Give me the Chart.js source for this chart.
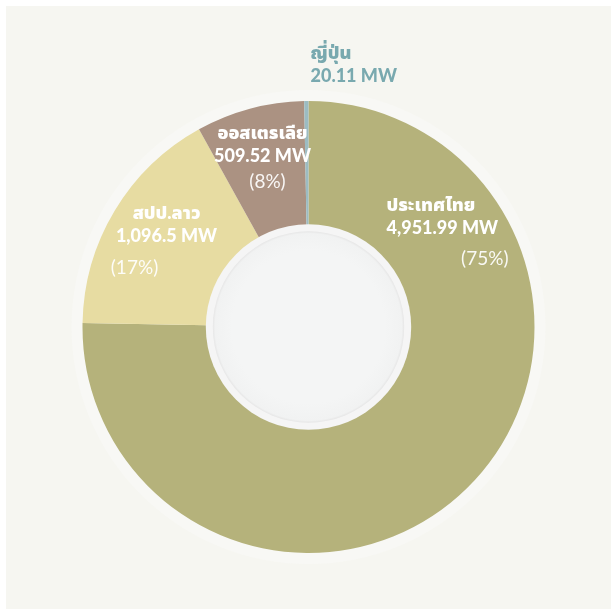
<!DOCTYPE html>
<html>
<head>
<meta charset="utf-8">
<script src="https://cdn.jsdelivr.net/npm/chart.js@4.4.1/dist/chart.umd.min.js"></script>
<style>
  html, body { margin: 0; padding: 0; background: #ffffff; }
  .chart-box {
    position: absolute;
    left: 6px;
    top: 6px;
    width: 605px;
    height: 603px;
    background: #f6f6f1;
  }
</style>
</head>
<body>
<div class="chart-box"><canvas id="powerChart"></canvas></div>
<script>
const countries = ["ประเทศไทย", "สปป.ลาว", "ออสเตรเลีย", "ญี่ปุ่น"];
const capacityMW = [4951.99, 1096.5, 509.52, 20.11];
const sliceColors = ["#b5b27b", "#e7dca2", "#ab9282", "#9cbcc2"];

const fontStack = "Lato, 'Noto Sans', 'Noto Sans Thai', sans-serif";

// where each label sits, offset from the chart centre (px)
const labelSpots = [
  { x: 78, y: -122, align: "left", pctX: 200, pctY: -68, pctAlign: "right", color: "#ffffff" },
  { x: -142, y: -114, align: "center", pctX: -174, pctY: -59, pctAlign: "center", color: "#ffffff" },
  { x: -46, y: -194, align: "center", pctX: -41, pctY: -145, pctAlign: "center", color: "#ffffff" },
  { x: 2, y: -274, align: "left", color: "#79a9af" },
];

const total = capacityMW.reduce((a, b) => a + b, 0);
const fmt = (v) => v.toLocaleString("en-US", { maximumFractionDigits: 2 });

const decorPlugin = {
  id: "decor",
  beforeDatasetsDraw(chart) {
    const arc = chart.getDatasetMeta(0).data[0];
    if (!arc) return;
    const { x, y, outerRadius } = arc;
    const ctx = chart.ctx;
    ctx.save();
    ctx.beginPath();
    ctx.arc(x, y, outerRadius + 11, 0, Math.PI * 2);
    ctx.fillStyle = "#f8f8f5";
    ctx.fill();
    ctx.restore();
  },
  afterDatasetsDraw(chart) {
    const arc = chart.getDatasetMeta(0).data[0];
    if (!arc) return;
    const { x, y, innerRadius } = arc;
    const ctx = chart.ctx;
    ctx.save();
    // white rim
    ctx.beginPath();
    ctx.arc(x, y, innerRadius + 1, 0, Math.PI * 2);
    ctx.fillStyle = "#f5f5f5";
    ctx.fill();
    // inner disc with soft inner shadow
    const r = innerRadius - 6;
    const g = ctx.createRadialGradient(x, y, r * 0.8, x, y, r);
    g.addColorStop(0, "#f4f5f5");
    g.addColorStop(0.88, "#f1f2f2");
    g.addColorStop(1, "#e6e6e6");
    ctx.beginPath();
    ctx.arc(x, y, r, 0, Math.PI * 2);
    ctx.fillStyle = g;
    ctx.fill();

    // labels
    ctx.textBaseline = "middle";
    countries.forEach((name, i) => {
      const s = labelSpots[i];
      ctx.fillStyle = s.color;
      ctx.textAlign = s.align;
      ctx.font = "900 18px " + fontStack;
      ctx.fillText(name, x + s.x, y + s.y);
      ctx.fillText(fmt(capacityMW[i]) + " MW", x + s.x, y + s.y + 23);
      const pct = Math.round((capacityMW[i] / total) * 100);
      if (s.pctX !== undefined && pct >= 1) {
        ctx.font = "19px " + fontStack;
        ctx.fillStyle = "rgba(255,255,255,0.92)";
        ctx.textAlign = s.pctAlign;
        ctx.fillText("(" + pct + "%)", x + s.pctX, y + s.pctY);
      }
    });
    ctx.restore();
  },
};

new Chart(document.getElementById("powerChart").getContext("2d"), {
  type: "doughnut",
  data: {
    labels: countries,
    datasets: [
      {
        data: capacityMW,
        backgroundColor: sliceColors,
        borderWidth: 0,
        hoverOffset: 0,
      },
    ],
  },
  options: {
    responsive: true,
    maintainAspectRatio: false,
    animation: false,
    cutout: "45%",
    layout: { padding: { top: 95, bottom: 56, left: 76, right: 76 } },
    plugins: { legend: { display: false }, tooltip: { enabled: false } },
  },
  plugins: [decorPlugin],
});
</script>
</body>
</html>
